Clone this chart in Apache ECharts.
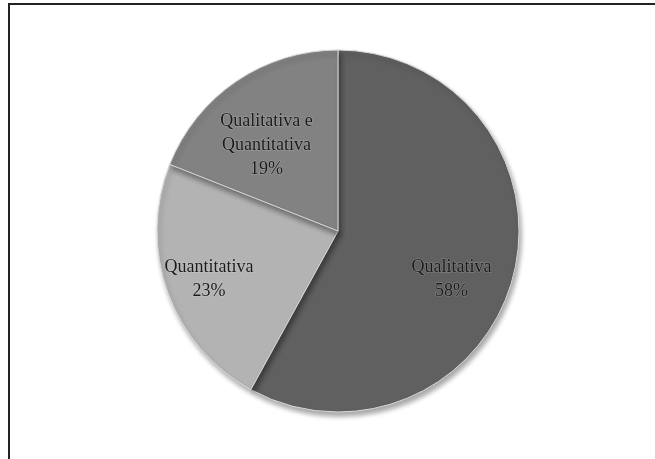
<!DOCTYPE html>
<html>
<head>
<meta charset="utf-8">
<script src="https://cdn.jsdelivr.net/npm/echarts@6/dist/echarts.min.js"></script>
<style>html,body{margin:0;padding:0;background:#fff}#c{width:655px;height:459px}</style>
</head>
<body>
<div id="c"></div>
<script>
const categories = ['Qualitativa', 'Quantitativa', 'Qualitativa e\nQuantitativa'];
const values = [58, 23, 19];
const colors = ['#606060', '#b3b3b3', '#828282'];
const labelOffsets = [[23, 25], [-41, 17], [-19, -8]];

const chart = echarts.init(document.getElementById('c'));
chart.setOption({
  animation: false,
  graphic: [{
    type: 'rect',
    shape: { x: 9, y: 4, width: 800, height: 600 },
    style: { fill: 'none', stroke: '#222', lineWidth: 2 }
  }],
  series: [{
    type: 'pie',
    center: [338, 231],
    radius: [0, 181],
    startAngle: 90,
    clockwise: true,
    avoidLabelOverlap: false,
    label: {
      show: true,
      position: 'inside',
      formatter: p => p.name + '\n' + p.value + '%',
      fontFamily: 'Liberation Serif',
      fontSize: 18,
      lineHeight: 24,
      color: '#1a1a1a',
      textBorderColor: 'rgba(255,255,255,0.25)',
      textBorderWidth: 1
    },
    labelLine: { show: false },
    itemStyle: {
      borderColor: '#d8d8d8',
      borderWidth: 1,
      shadowColor: 'rgba(0,0,0,0.35)',
      shadowBlur: 5,
      shadowOffsetX: 2,
      shadowOffsetY: 4
    },
    data: categories.map((n, i) => ({
      name: n,
      value: values[i],
      itemStyle: { color: colors[i] },
      label: { offset: labelOffsets[i] }
    }))
  }]
});
</script>
</body>
</html>
